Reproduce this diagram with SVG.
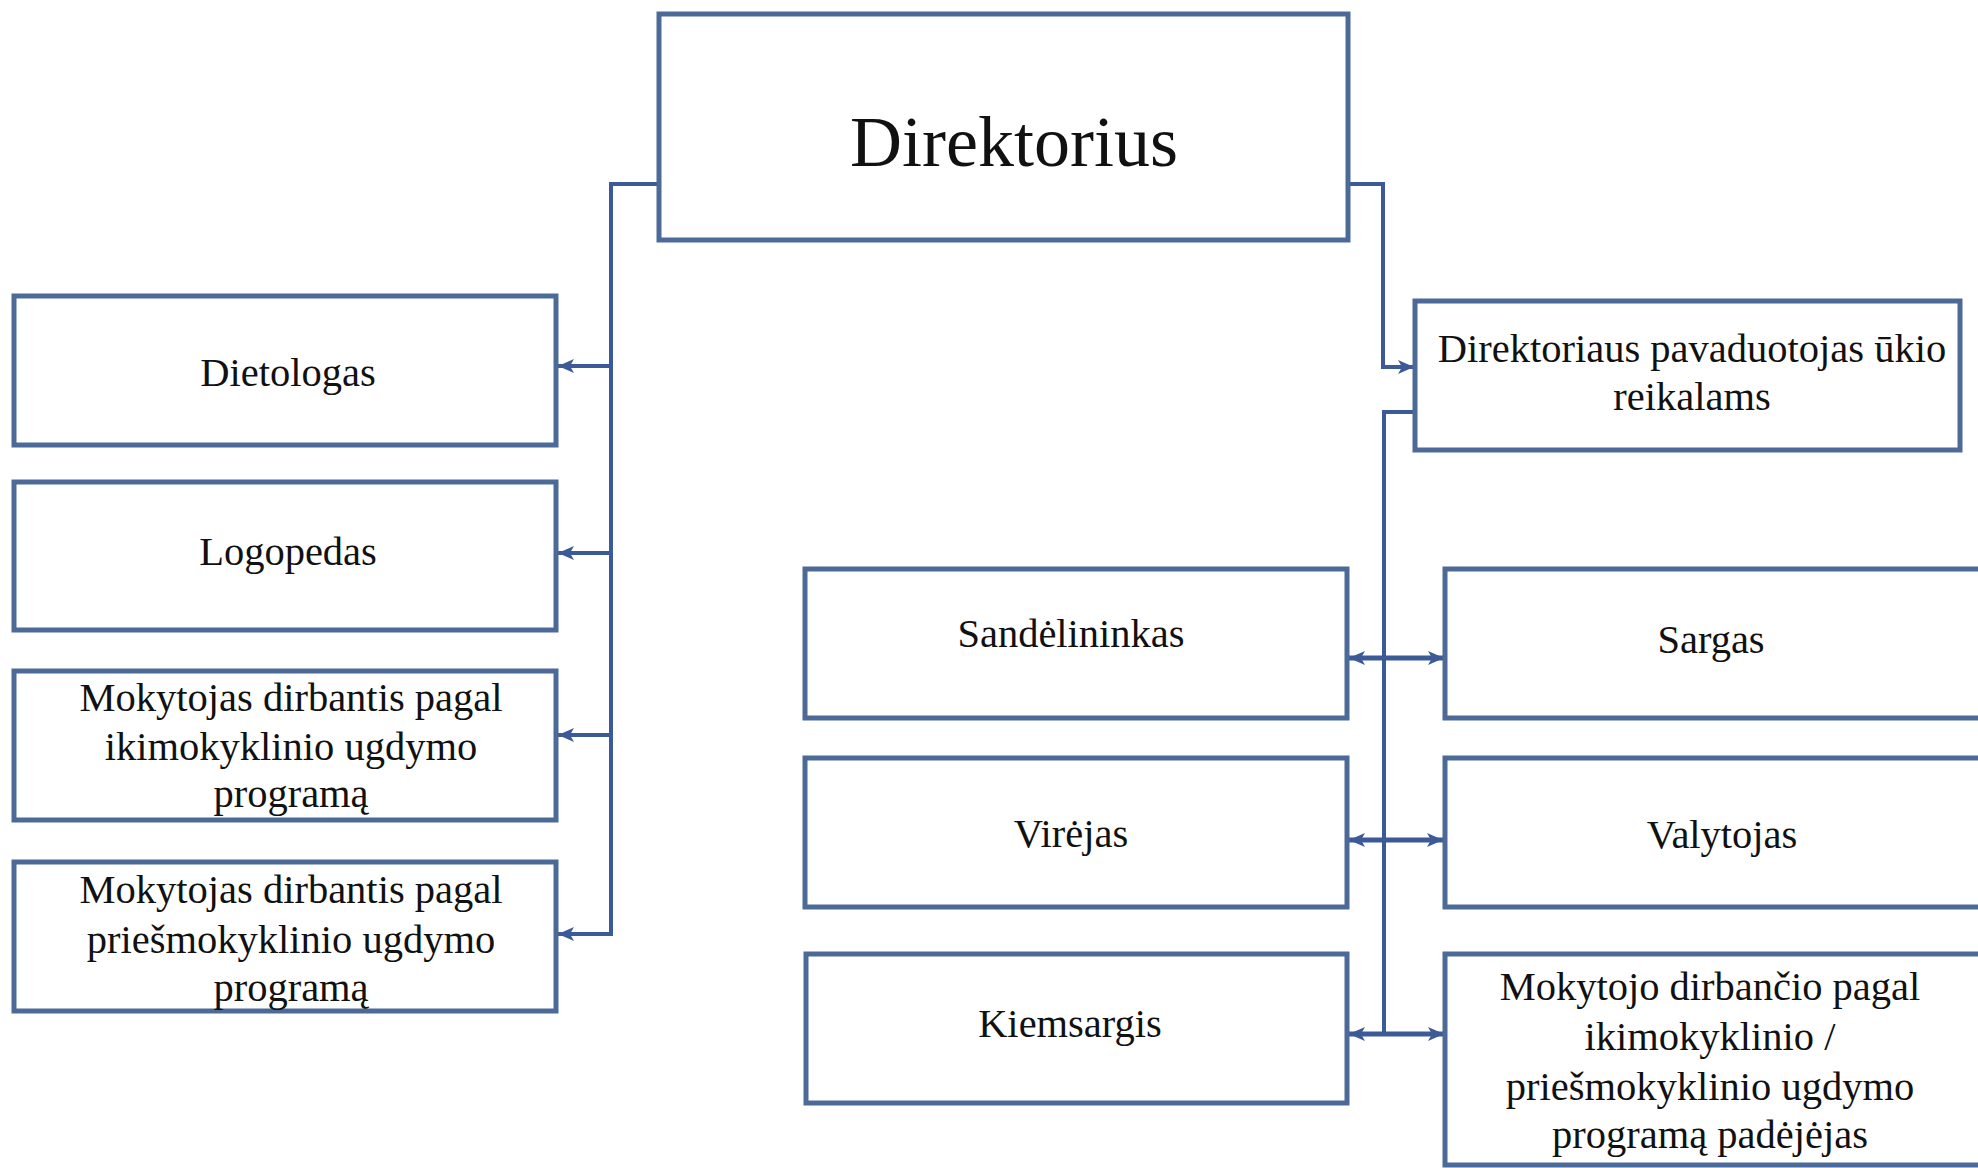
<svg xmlns="http://www.w3.org/2000/svg" width="1978" height="1168" viewBox="0 0 1978 1168">
<style>
.box{fill:#ffffff;stroke:#4c6a98;stroke-width:5}
.t{font-family:"Liberation Serif","Times New Roman",serif;font-size:40.5px;fill:#111111;text-anchor:middle}
.big{font-size:72px}
.c{fill:none;stroke:#3d5a98;stroke-width:4}
.d{fill:none;stroke:#3d5a98;stroke-width:5}
</style>
<defs>
<marker id="ah" markerUnits="userSpaceOnUse" markerWidth="18" markerHeight="16" refX="16" refY="8" orient="auto-start-reverse">
<path d="M0,1 L16,8 L0,15 L4,8 Z" fill="#3d5a98"/>
</marker>
</defs>
<rect width="1978" height="1168" fill="#ffffff"/>
<g id="connectors">
<path class="c" d="M659,184 H611 V934 H558" marker-end="url(#ah)"/>
<path class="c" d="M611,366 H558" marker-end="url(#ah)"/>
<path class="c" d="M611,553 H558" marker-end="url(#ah)"/>
<path class="c" d="M611,735 H558" marker-end="url(#ah)"/>
<path class="c" d="M1348,184 H1383 V367 H1414" marker-end="url(#ah)"/>
<path class="c" d="M1415,412 H1384 V1034"/>
<path class="d" d="M1349,658 H1444" marker-start="url(#ah)" marker-end="url(#ah)"/>
<path class="d" d="M1349,840 H1443" marker-start="url(#ah)" marker-end="url(#ah)"/>
<path class="d" d="M1349,1034 H1444" marker-start="url(#ah)" marker-end="url(#ah)"/>
</g>
<g id="direktorius">
<rect class="box" x="659" y="14" width="689" height="226"/>
<text class="t big" x="1014" y="166">Direktorius</text>
</g>
<g id="dietologas">
<rect class="box" x="14" y="296" width="542" height="149"/>
<text class="t" x="288" y="386">Dietologas</text>
</g>
<g id="logopedas">
<rect class="box" x="14" y="482" width="542" height="148"/>
<text class="t" x="288" y="565">Logopedas</text>
</g>
<g id="mokytojas-iki">
<rect class="box" x="14" y="671" width="542" height="149"/>
<text class="t" x="291" y="711">Mokytojas dirbantis pagal</text>
<text class="t" x="291" y="760">ikimokyklinio ugdymo</text>
<text class="t" x="291" y="807">programą</text>
</g>
<g id="mokytojas-pries">
<rect class="box" x="14" y="862" width="542" height="149"/>
<text class="t" x="291" y="903">Mokytojas dirbantis pagal</text>
<text class="t" x="291" y="953">priešmokyklinio ugdymo</text>
<text class="t" x="291" y="1001">programą</text>
</g>
<g id="pavaduotojas">
<rect class="box" x="1415" y="301" width="545" height="149"/>
<text class="t" x="1692" y="362">Direktoriaus pavaduotojas ūkio</text>
<text class="t" x="1692" y="410">reikalams</text>
</g>
<g id="sandelininkas">
<rect class="box" x="805" y="569" width="542" height="149"/>
<text class="t" x="1071" y="647">Sandėlininkas</text>
</g>
<g id="sargas">
<rect class="box" x="1445" y="569" width="560" height="149"/>
<text class="t" x="1711" y="653">Sargas</text>
</g>
<g id="virejas">
<rect class="box" x="805" y="758" width="542" height="149"/>
<text class="t" x="1071" y="847">Virėjas</text>
</g>
<g id="valytojas">
<rect class="box" x="1445" y="758" width="560" height="149"/>
<text class="t" x="1722" y="848">Valytojas</text>
</g>
<g id="kiemsargis">
<rect class="box" x="806" y="954" width="541" height="149"/>
<text class="t" x="1070" y="1037">Kiemsargis</text>
</g>
<g id="padejejas">
<rect class="box" x="1445" y="954" width="560" height="211"/>
<text class="t" x="1710" y="1000">Mokytojo dirbančio pagal</text>
<text class="t" x="1710" y="1050">ikimokyklinio /</text>
<text class="t" x="1710" y="1148">programą padėjėjas</text>
<text class="t" x="1710" y="1100">priešmokyklinio ugdymo</text>
</g>
</svg>
